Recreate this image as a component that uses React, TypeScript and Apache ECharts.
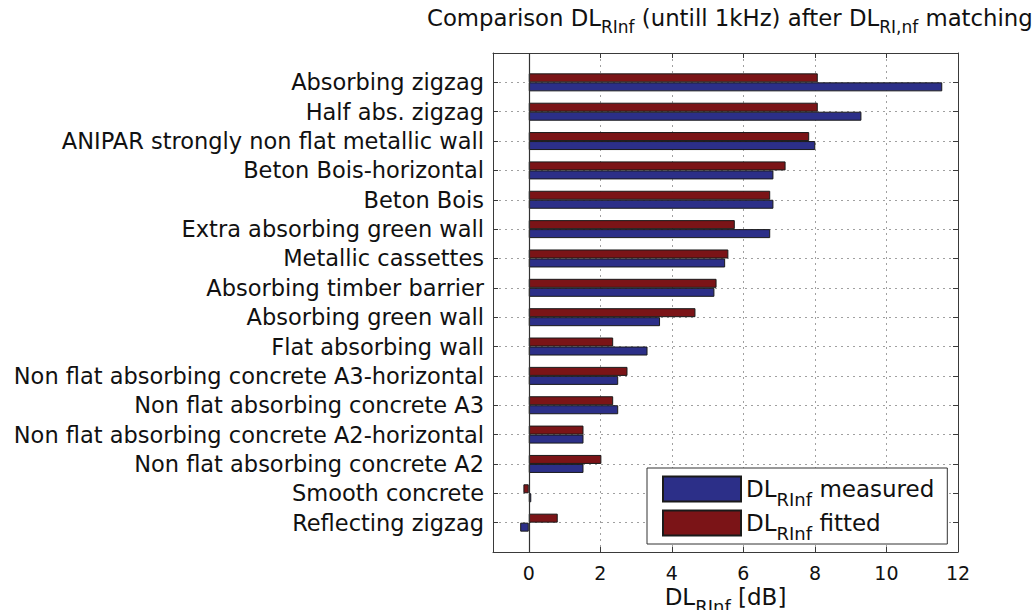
import React, { useEffect, useRef } from "react";
import * as echarts from "echarts";

const categories = [
  "Absorbing zigzag",
  "Half abs. zigzag",
  "ANIPAR strongly non flat metallic wall",
  "Beton Bois-horizontal",
  "Beton Bois",
  "Extra absorbing green wall",
  "Metallic cassettes",
  "Absorbing timber barrier",
  "Absorbing green wall",
  "Flat absorbing wall",
  "Non flat absorbing concrete A3-horizontal",
  "Non flat absorbing concrete A3",
  "Non flat absorbing concrete A2-horizontal",
  "Non flat absorbing concrete A2",
  "Smooth concrete",
  "Reflecting zigzag",
];

const measured = [11.56, 9.3, 8.01, 6.84, 6.84, 6.75, 5.49, 5.19, 3.67, 3.32, 2.5, 2.5, 1.53, 1.53, 0.07, -0.24];
const fitted = [8.08, 8.08, 7.84, 7.18, 6.75, 5.76, 5.58, 5.25, 4.66, 2.36, 2.76, 2.36, 1.53, 2.03, -0.15, 0.81];

const xMin = -1;
const xMax = 12;

const FONT = "DejaVu Sans";

function makeRich(main: number, sub: number, drop: number, lh: number) {
  return {
    a: { fontSize: main, fontFamily: FONT, fontWeight: "normal", color: "#111", lineHeight: lh },
    s: {
      fontSize: sub,
      fontFamily: FONT,
      fontWeight: "normal",
      color: "#111",
      lineHeight: 10,
      padding: [drop * 2, 0, 0, 0],
    },
  };
}

export default function App() {
  const ref = useRef<HTMLDivElement>(null);
  useEffect(() => {
    if (!ref.current) return;
    const chart = echarts.init(ref.current, null, { renderer: "svg" });
    const axisCats = ["", ...categories, ""];
    const pad = (arr: number[]) => ["-", ...arr, "-"];
    const frameColor = "#3a3a3a";
    const legendRich = makeRich(23, 18, 10, 25);
    const titleRich = makeRich(22.8, 17, 9, 26);
    const nameRich = makeRich(23, 18, 9, 26);
    const xCommon = {
      type: "value",
      min: xMin,
      max: xMax,
      splitNumber: 6,
      axisLine: { show: true, onZero: false, lineStyle: { color: frameColor, width: 1 } },
      axisTick: { show: true, inside: true, length: 5, lineStyle: { color: frameColor } },
    };
    const yCommon = {
      type: "category",
      data: axisCats,
      inverse: true,
      boundaryGap: false,
      axisLine: { show: true, onZero: false, lineStyle: { color: frameColor, width: 1 } },
      axisTick: { show: true, inside: true, length: 5, interval: 0, lineStyle: { color: frameColor } },
    };
    chart.setOption({
      animation: false,
      backgroundColor: "#ffffff",
      title: {
        text: "{a|Comparison DL}{s|RInf}{a| (untill 1kHz) after DL}{s|RI,nf}{a| matching}",
        left: 422,
        top: 0,
        textStyle: { fontWeight: "normal", rich: titleRich },
      },
      legend: {
        orient: "vertical",
        left: 647,
        top: 468,
        data: ["measured", "fitted"],
        icon: "rect",
        itemWidth: 78,
        itemHeight: 25,
        itemGap: -4,
        padding: [2, 13, 2, 15],
        borderColor: "#333",
        borderWidth: 1,
        backgroundColor: "#ffffff",
        textStyle: { rich: legendRich },
        formatter: (name: string) => `{a|DL}{s|RInf}{a| ${name}}`,
      },
      grid: { left: 493, top: 53, right: 75, bottom: 58, containLabel: false, outerBoundsMode: "none" },
      xAxis: [
        {
          ...xCommon,
          position: "bottom",
          axisLabel: {
            fontSize: 19,
            fontFamily: FONT,
            color: "#111",
            margin: 11,
            formatter: (v: number) => (v < 0 ? "" : String(v)),
          },
          splitLine: { show: true, lineStyle: { color: "#a0a0a0", type: [2, 4], width: 1 } },
          name: "{a|DL}{s|RInf}{a| [dB]}",
          nameLocation: "middle",
          nameGap: 32,
          nameMoveOverlap: false,
          nameTextStyle: { rich: nameRich },
        },
        {
          ...xCommon,
          position: "top",
          axisLabel: { show: false },
          splitLine: { show: false },
        },
      ],
      yAxis: [
        {
          ...yCommon,
          position: "left",
          axisLabel: { fontSize: 22.5, fontFamily: FONT, color: "#111", margin: 9, interval: 0 },
          splitLine: { show: true, interval: 0, lineStyle: { color: "#a0a0a0", type: [2, 4], width: 1 } },
        },
        {
          ...yCommon,
          position: "right",
          axisLabel: { show: false },
          splitLine: { show: false },
        },
      ],
      series: [
        {
          name: "fitted",
          type: "bar",
          data: pad(fitted),
          barWidth: 9,
          barGap: "0%",
          itemStyle: { color: "#7b1417", borderColor: "#1a1a1a", borderWidth: 1 },
          markLine: {
            silent: true,
            symbol: "none",
            label: { show: false },
            lineStyle: { color: "#333", type: "solid", width: 1.2 },
            data: [{ xAxis: 0 }],
          },
        },
        {
          name: "measured",
          type: "bar",
          data: pad(measured),
          barWidth: 9,
          barGap: "0%",
          itemStyle: { color: "#2c2f88", borderColor: "#1a1a1a", borderWidth: 1 },
        },
      ],
    });
    return () => chart.dispose();
  }, []);
  return (
    <div
      ref={ref}
      style={{ position: "fixed", left: 0, top: 0, width: 1033, height: 610 }}
    />
  );
}
